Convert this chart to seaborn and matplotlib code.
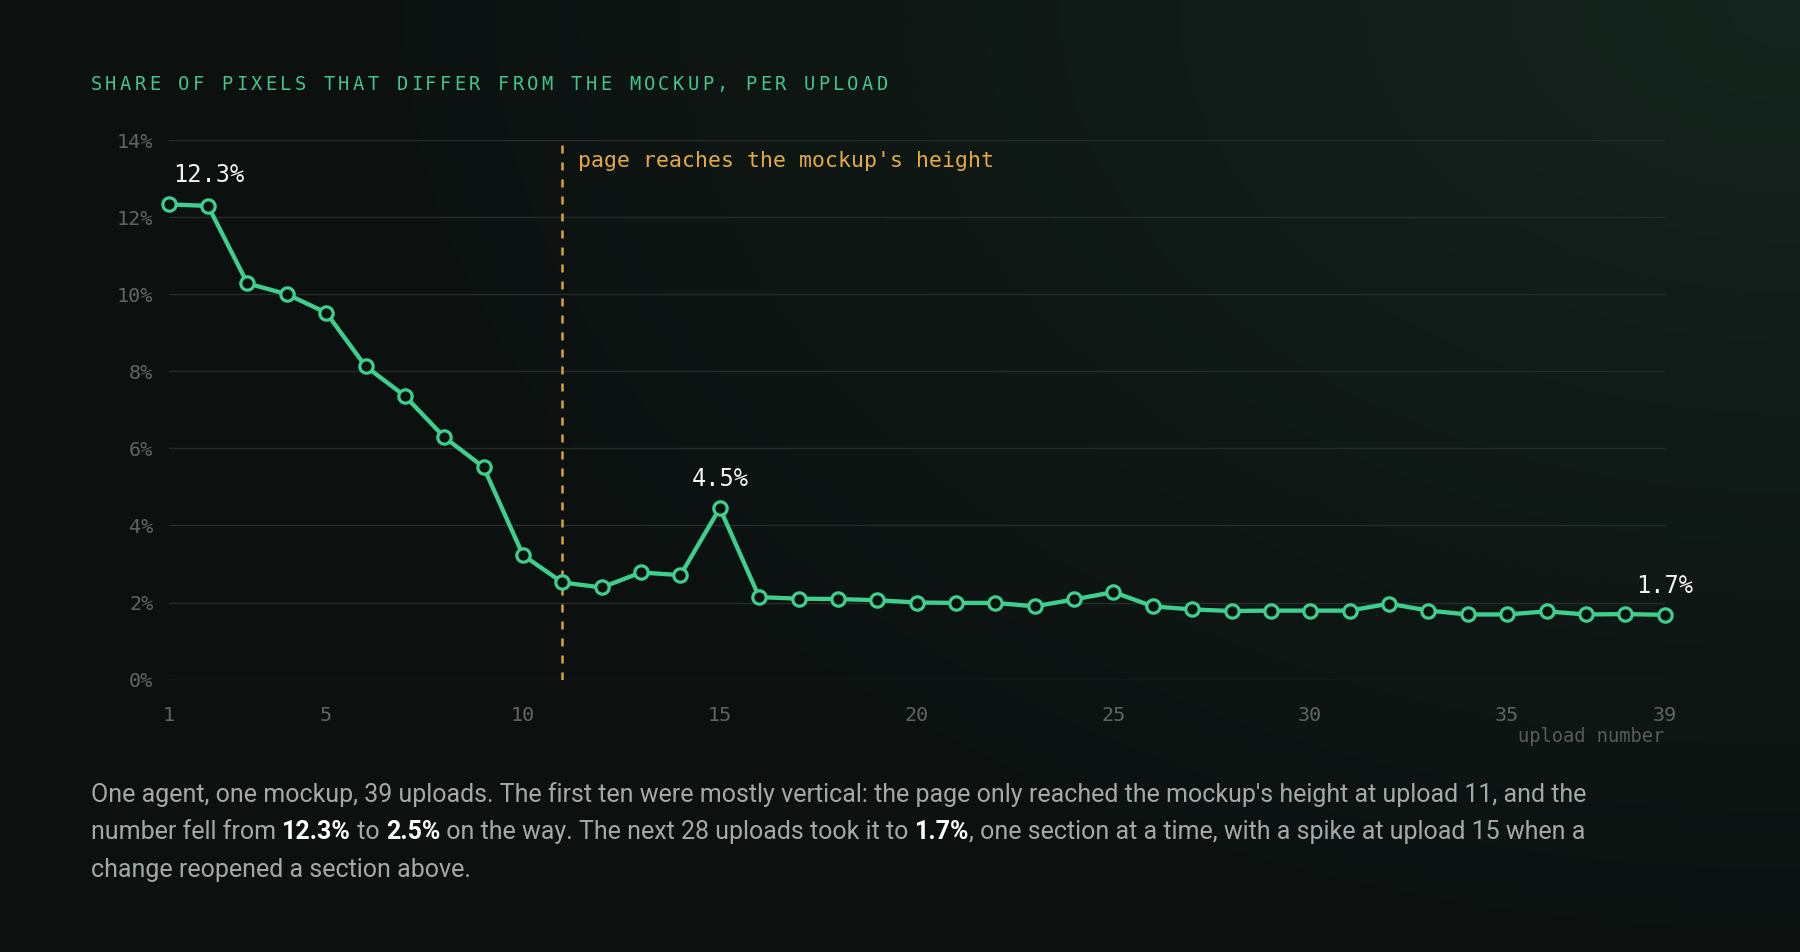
import numpy as np
import pandas as pd
import matplotlib
matplotlib.use("Agg")
import matplotlib.pyplot as plt
import seaborn as sns

# ---------------- data ----------------
uploads = list(range(1, 40))
share = [12.33, 12.29, 10.28, 10.00, 9.52, 8.13, 7.36, 6.29, 5.51, 3.23,
         2.52, 2.39, 2.78, 2.71, 4.45, 2.14, 2.10, 2.09, 2.06, 2.00,
         1.99, 1.99, 1.90, 2.08, 2.27, 1.90, 1.82, 1.78, 1.79, 1.79,
         1.79, 1.97, 1.79, 1.69, 1.69, 1.77, 1.69, 1.70, 1.68]
labeled_uploads = [1, 15, 39]
labeled_texts = ["12.3%", "4.5%", "1.7%"]
milestone_upload = 11
milestone_label = "page reaches the mockup's height"
y_ticks = [0, 2, 4, 6, 8, 10, 12, 14]
y_tick_labels = [f"{v}%" for v in y_ticks]
x_ticks = [1, 5, 10, 15, 20, 25, 30, 35, 39]
x_tick_labels = [str(v) for v in x_ticks]
title = "SHARE OF PIXELS THAT DIFFER FROM THE MOCKUP, PER UPLOAD"
x_label = "upload number"
caption_lines = [
    [("One agent, one mockup, 39 uploads. The first ten were mostly vertical: the page only reached the mockup's height at upload 11, and the", False)],
    [("number fell from ", False), ("12.3%", True), (" to ", False), ("2.5%", True),
     (" on the way. The next 28 uploads took it to ", False), ("1.7%", True),
     (", one section at a time, with a spike at upload 15 when a", False)],
    [("change reopened a section above.", False)],
]

# ---------------- style ----------------
BG = "#0c1110"
GREEN = "#3ecf8e"
TITLE_GREEN = "#42c48b"
AMBER = "#e3ab44"
AMBER_LINE = "#d9a23a"
WHITE = "#f2f4f3"
TICK = "#5e6562"
GRID = "#262c2a"
CAPTION = "#a3aaa6"

sns.set_theme(style="dark")
plt.rcParams["font.family"] = ["DejaVu Sans Mono"]

W, H = 1800, 952
fig = plt.figure(figsize=(W / 100, H / 100), dpi=100)
fig.patch.set_facecolor(BG)

# background glow (top-right)
bg = fig.add_axes([0, 0, 1, 1], zorder=-10)
gh, gw = 238, 450
yy, xx = np.mgrid[0:gh, 0:gw]
px = xx / (gw - 1) * W
py = yy / (gh - 1) * H
d = np.sqrt(((W - px) / 1500.0) ** 2 + (py / 1000.0) ** 2)
f = np.clip(1 - d, 0, 1) ** 1.1
base = np.array([12, 17, 16]) / 255.0
glow = np.array([21, 36, 30]) / 255.0
img = base[None, None, :] + (glow - base)[None, None, :] * f[:, :, None]
bg.imshow(img, extent=[0, 1, 0, 1], aspect="auto", interpolation="bilinear")
bg.axis("off")

# main axes
ax = fig.add_axes([168.7 / W, 1 - 679.6 / H, (1664.6 - 168.7) / W, (679.6 - 140) / H])
ax.set_facecolor("none")
ax.patch.set_alpha(0)

df = pd.DataFrame({"upload": uploads, "share": share})
sns.lineplot(data=df, x="upload", y="share", ax=ax, color=GREEN, lw=3.1,
             marker="o", markersize=9.6, markerfacecolor=BG, markeredgecolor=GREEN,
             markeredgewidth=2.3, clip_on=False, zorder=5)

ax.axvline(milestone_upload, color=AMBER_LINE, lw=1.8, dashes=(3.2, 3.6), zorder=3)
ax.annotate(milestone_label, xy=(milestone_upload, 13.45), xytext=(11.5, 0),
            textcoords="offset points", ha="left", va="center",
            color=AMBER, fontsize=15.5)

for u, txt in zip(labeled_uploads, labeled_texts):
    v = share[uploads.index(u)]
    if u == uploads[0]:
        ax.annotate(txt, xy=(u, v), xytext=(3.4, 21.5), textcoords="offset points",
                    ha="left", va="center", color=WHITE, fontsize=17, zorder=6)
    else:
        ax.annotate(txt, xy=(u, v), xytext=(0, 21), textcoords="offset points",
                    ha="center", va="center", color=WHITE, fontsize=17, zorder=6)

ax.set_xlim(uploads[0], uploads[-1])
ax.set_ylim(0, 14)
ax.set_yticks(y_ticks)
ax.set_yticklabels(y_tick_labels)
ax.set_xticks(x_ticks)
ax.set_xticklabels(x_tick_labels)
ax.set_xlabel("")
ax.set_ylabel("")
ax.tick_params(axis="both", length=0, colors=TICK, labelsize=14.5)
ax.tick_params(axis="y", pad=11)
ax.tick_params(axis="x", pad=19)
ax.yaxis.grid(True, color=GRID, lw=1)
ax.xaxis.grid(False)
ax.set_axisbelow(True)
for s in ax.spines.values():
    s.set_visible(False)

fig.text(1664.6 / W, 1 - 737 / H, x_label, ha="right", va="center",
         color="#565d5a", fontsize=13.5)

# title with letter spacing
pitch = 14.55 / W
for i, ch in enumerate(title):
    if ch != " ":
        fig.text(90.7 / W + i * pitch, 1 - 84 / H, ch, ha="left", va="center",
                 color=TITLE_GREEN, fontsize=13.5)

# caption
renderer = fig.canvas.get_renderer()
CAP_FONT = ["Roboto", "DejaVu Sans"]


def seg_width(s, size, bold):
    kw = dict(fontsize=size, family=CAP_FONT, weight="semibold" if bold else "normal")
    t1 = fig.text(0, 0, s + "|", **kw)
    w1 = t1.get_window_extent(renderer).width
    t1.remove()
    t2 = fig.text(0, 0, "|", **kw)
    w2 = t2.get_window_extent(renderer).width
    t2.remove()
    return w1 - w2


target = 1588 - 90.7
w16 = sum(seg_width(s, 16, b) for s, b in caption_lines[0])
cap_size = 16 * target / w16

cap_y = [794.5, 832.3, 870.0]
for line, yc in zip(caption_lines, cap_y):
    xp = 90.7
    for s, b in line:
        fig.text(xp / W, 1 - yc / H, s, ha="left", va="center",
                 fontsize=cap_size, family=CAP_FONT,
                 weight="semibold" if b else "normal",
                 color="#ffffff" if b else CAPTION)
        xp += seg_width(s, cap_size, b)

fig.savefig("out.png", dpi=100, facecolor=BG)
